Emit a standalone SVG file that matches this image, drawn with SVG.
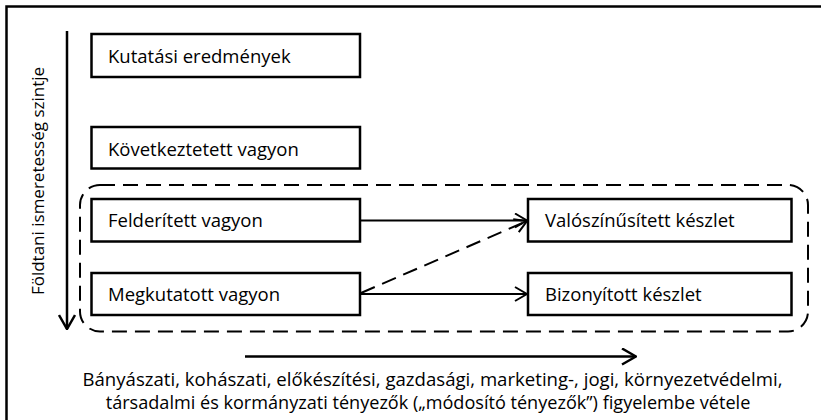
<svg xmlns="http://www.w3.org/2000/svg" width="821" height="420" viewBox="0 0 821 420">
  <defs>
    <style>
      .frame { fill: none; stroke: #000; stroke-width: 2.5; }
      .box { fill: #fff; stroke: #000; stroke-width: 2.5; }
      .label { font-family: "Open Sans", "Liberation Sans", sans-serif; font-size: 18.5px; fill: #000; }
      .note { font-family: "Open Sans", "Liberation Sans", sans-serif; font-size: 18.6px; fill: #000; }
      .axis-label { font-family: "Open Sans", "Liberation Sans", sans-serif; font-size: 17px; fill: #000; }
      .line { fill: none; stroke: #000; stroke-width: 2; }
      .axis { fill: none; stroke: #000; stroke-width: 2.5; }
      .dash { stroke-dasharray: 15 8; }
    </style>
    <marker id="head" viewBox="0 0 14 16" refX="13" refY="8" markerWidth="14" markerHeight="16" markerUnits="userSpaceOnUse" orient="auto">
      <path d="M1 1 L13 8 L1 15" fill="none" stroke="#000" stroke-width="2"/>
    </marker>
    <marker id="axisHead" viewBox="0 0 16 18" refX="15" refY="9" markerWidth="16" markerHeight="18" markerUnits="userSpaceOnUse" orient="auto">
      <path d="M1 1 L15 9 L1 17" fill="none" stroke="#000" stroke-width="2.5"/>
    </marker>
  </defs>

  <rect width="821" height="420" fill="#fff"/>
  <!-- outer frame, open to the right and bottom edges -->
  <rect class="frame" x="6.5" y="6.5" width="830" height="430"/>

  <!-- axes -->
  <g id="axes">
    <line class="axis" x1="67" y1="31" x2="67" y2="329" marker-end="url(#axisHead)"/>
    <text class="axis-label" transform="translate(43.5 181) rotate(-90)" text-anchor="middle">Földtani ismeretesség szintje</text>
    <line class="axis" x1="245" y1="356.5" x2="636" y2="356.5" marker-end="url(#axisHead)"/>
  </g>

  <!-- group boundary -->
  <rect id="group" class="line dash" x="80" y="185" width="728" height="146.5" rx="20" ry="20"/>

  <g id="kutatasi">
    <rect class="box" x="91.5" y="34" width="268.5" height="43"/>
    <text class="label" x="108" y="63">Kutatási eredmények</text>
  </g>
  <g id="kovetkeztetett">
    <rect class="box" x="91.5" y="127" width="268.5" height="41.5"/>
    <text class="label" x="108" y="155.5">Következtetett vagyon</text>
  </g>
  <g id="felderitett">
    <rect class="box" x="91.5" y="199" width="268.5" height="42.5"/>
    <text class="label" x="108" y="227">Felderített vagyon</text>
  </g>
  <g id="megkutatott">
    <rect class="box" x="91.5" y="273" width="268.5" height="42"/>
    <text class="label" x="108" y="300.5">Megkutatott vagyon</text>
  </g>
  <g id="valoszinusitett">
    <rect class="box" x="528" y="199" width="263.5" height="42.5"/>
    <text class="label" x="545" y="227">Valószínűsített készlet</text>
  </g>
  <g id="bizonyitott">
    <rect class="box" x="528" y="273" width="263.5" height="42"/>
    <text class="label" x="545" y="300.5">Bizonyított készlet</text>
  </g>

  <g id="connectors">
    <line class="line" x1="360" y1="220.5" x2="527" y2="220.5" marker-end="url(#head)"/>
    <line class="line" x1="360" y1="294" x2="527" y2="294" marker-end="url(#head)"/>
    <line class="line dash" x1="361" y1="293" x2="527" y2="221" marker-end="url(#head)"/>
  </g>

  <g id="factors">
    <text class="note" x="432.5" y="385.5" text-anchor="middle">Bányászati, kohászati, előkészítési, gazdasági, marketing-, jogi, környezetvédelmi,</text>
    <text class="note" x="428" y="409" text-anchor="middle" style="font-size:18.1px">társadalmi és kormányzati tényezők („módosító tényezők”) figyelembe vétele</text>
  </g>
</svg>
